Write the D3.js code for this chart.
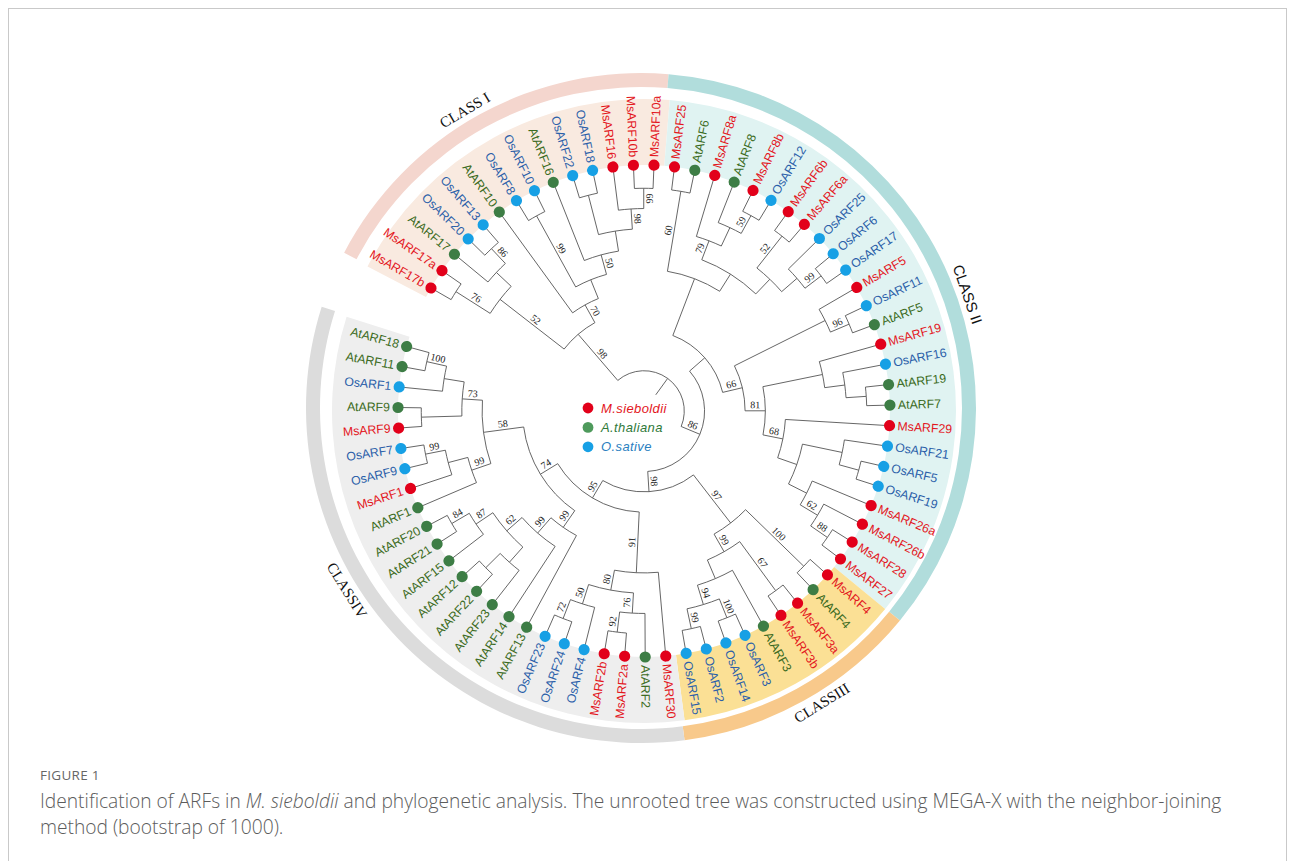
<!DOCTYPE html>
<html>
<head>
<meta charset="utf-8">
<script src="https://cdn.jsdelivr.net/npm/d3@7"></script>
<style>
  body { margin: 0; background: #fff; }
</style>
</head>
<body>
<svg id="chart" width="1293" height="861"></svg>
<script>
// ---- data -------------------------------------------------------------
// clades in Newick, clockwise leaf order, bootstrap values as node names
const cladeI = "(((MsARF17b,MsARF17a)76,(AtARF17,(OsARF20,OsARF13)86))52,(AtARF10,((OsARF8,OsARF10)99,(AtARF16,((OsARF22,OsARF18),(MsARF16,(MsARF10b,MsARF10a)66)98))50))70)98";
const cladeII = "(((MsARF25,AtARF6)60,((MsARF8a,(AtARF8,(MsARF8b,OsARF12)59))79,((MsARF6b,MsARF6a)52,(OsARF25,(OsARF6,OsARF17)99)))),((MsARF5,(OsARF11,AtARF5)96),((MsARF19,(OsARF16,(AtARF19,AtARF7))),(MsARF29,((OsARF21,(OsARF5,OsARF19)),(MsARF26a,(MsARF26b,(MsARF28,MsARF27)88)62)))68)81)66)";
const cladeIII = "((MsARF4,AtARF4)100,((MsARF3a,MsARF3b)67,(AtARF3,((OsARF3,OsARF14)100,(OsARF2,OsARF15)99)94))99)97";
const cladeIV = "((MsARF30,((AtARF2,(MsARF2a,MsARF2b)92)76,(OsARF4,(OsARF24,OsARF23)72)50)80)91,((AtARF13,(AtARF14,((AtARF23,(AtARF22,AtARF12)),(AtARF15,(AtARF21,AtARF20)84)87)62)99)99,((AtARF1,(MsARF1,(OsARF9,OsARF7)99))99,((MsARF9,AtARF9),(OsARF1,(AtARF11,AtARF18)100))73)58)74)95";
const treeNewick = "((" + cladeI + ",(" + cladeII + ",(" + cladeIII + "," + cladeIV + ")98)86));";

const classNames = ["CLASS I", "CLASS II", "CLASSIII", "CLASSIV"];
const classFirst = ["MsARF17b", "MsARF25", "MsARF4", "MsARF30"];
const classLast  = ["MsARF10a", "MsARF27", "OsARF15", "AtARF18"];

const speciesPrefix = ["Ms", "At", "Os"];
const speciesNames  = ["M.sieboldii", "A.thaliana", "O.sative"];

const figureTitle = "FIGURE 1";
const captionLine1 = ["Identification of ARFs in ", "M. sieboldii", " and phylogenetic analysis. The unrooted tree was constructed using MEGA-X with the neighbor-joining"];
const captionLine2 = "method (bootstrap of 1000).";

// ---- helpers ----------------------------------------------------------
function parseNewick(s) {
  let i = 0;
  function node() {
    const n = {};
    if (s[i] === "(") {
      n.children = [];
      i++;
      n.children.push(node());
      while (s[i] === ",") { i++; n.children.push(node()); }
      i++; // ')'
    }
    let name = "";
    while (i < s.length && !",();".includes(s[i])) name += s[i++];
    n.name = name.trim();
    return n;
  }
  return node();
}

const rad = a => a * Math.PI / 180;
const polar = (a, r) => [Math.sin(rad(a)) * r, -Math.cos(rad(a)) * r];
const norm = a => ((a % 360) + 360) % 360;

const dotColor  = { Ms: "#e2001a", At: "#3d7d45", Os: "#17a0e5" };
const textColor = { Ms: "#e3161d", At: "#3b6b22", Os: "#2b5fa9" };
const bandColor = ["#f9eae0", "#e0f3f2", "#fbe095", "#eeeeee"];
const ringColor = ["#f4d6ce", "#b1dddc", "#f8c98b", "#dcdcdc"];

// ---- layout -----------------------------------------------------------
const svg = d3.select("#chart");
const cx = 644, cy = 411;
const leafR = 246;

const root = d3.hierarchy(parseNewick(treeNewick));
const nLeaves = root.leaves().length;
d3.cluster().size([nLeaves, root.height]).separation(() => 1)(root);

const angle = d3.scaleLinear().domain([0.5, nLeaves - 0.5]).range([300, 645.2]);
const radius = d3.scaleLinear().domain([0, root.height]).range([20, 243]);
const step = (angle(1.5) - angle(0.5));

const leafByName = {};
root.leaves().forEach(d => leafByName[d.data.name] = d);

// frame
svg.append("rect")
  .attr("x", 8.5).attr("y", 8.5)
  .attr("width", 1278).attr("height", 900)
  .attr("fill", "none").attr("stroke", "#c9c9c9");

// class bands and rings
const bandG = svg.append("g").attr("transform", `translate(${cx},${cy})`);
const ringG = svg.append("g").attr("transform", `translate(${cx - 3},${cy - 3})`);
const classSpan = classNames.map((c, i) => [
  angle(leafByName[classFirst[i]].x) - step / 2,
  angle(leafByName[classLast[i]].x) + step / 2
]);

const bandArc = d3.arc().innerRadius(leafR).outerRadius(312);
const ringArc = d3.arc().innerRadius(321).outerRadius(335);
classSpan.forEach((s, i) => {
  bandG.append("path")
    .attr("d", bandArc({ startAngle: rad(s[0]), endAngle: rad(s[1]) }))
    .attr("fill", bandColor[i]);
  ringG.append("path")
    .attr("d", ringArc({ startAngle: rad(s[0]), endAngle: rad(s[1]) }))
    .attr("fill", ringColor[i]);
});

// class labels, placed by hand along the outer ring
const classLabelAngle = [-30.6, 70.8, 148.5, 238.2];
classNames.forEach((c, i) => {
  const a = classLabelAngle[i];
  const [x, y] = polar(a, 346);
  const na = norm(a);
  const rot = (na > 90 && na < 270) ? a - 180 : a;
  ringG.append("text")
    .attr("transform", `translate(${x},${y}) rotate(${rot})`)
    .attr("text-anchor", "middle")
    .attr("dominant-baseline", "central")
    .attr("font-family", i === 1 ? "Liberation Sans, Arial, sans-serif" : "Liberation Serif, Times New Roman, serif")
    .attr("font-size", 15)
    .attr("fill", "#111")
    .text(c);
});

// tree
const g = svg.append("g").attr("transform", `translate(${cx},${cy})`);

function linkPath(d) {
  const a0 = angle(d.parent.x), a1 = angle(d.x);
  const r0 = radius(d.parent.y);
  const r1 = d.children ? radius(d.y) : leafR;
  const [x0, y0] = polar(a0, r0), [x1, y1] = polar(a1, r0), [x2, y2] = polar(a1, r1);
  const sweep = a1 > a0 ? 1 : 0;
  return `M${x0},${y0}A${r0},${r0} 0 0 ${sweep} ${x1},${y1}L${x2},${y2}`;
}

g.append("g")
  .attr("fill", "none")
  .attr("stroke", "#555")
  .attr("stroke-width", 0.9)
  .selectAll("path")
  .data(root.descendants().slice(1))
  .join("path")
  .attr("d", linkPath);

// bootstrap values
g.append("g")
  .selectAll("text")
  .data(root.descendants().filter(d => d.children && d.parent && d.data.name))
  .join("text")
  .attr("transform", d => {
    const a = angle(d.x);
    const rm = (radius(d.parent.y) + radius(d.y)) / 2;
    const [x, y] = polar(a, rm);
    const rot = norm(a) < 180 ? a - 90 : a + 90;
    return `translate(${x},${y}) rotate(${rot})`;
  })
  .attr("y", -2.5)
  .attr("text-anchor", "middle")
  .attr("font-family", "Liberation Serif, Times New Roman, serif")
  .attr("font-size", 10)
  .attr("fill", "#222")
  .text(d => d.data.name);

// leaves
const prefix = d => d.data.name.slice(0, 2);
const leaves = g.append("g").selectAll("g")
  .data(root.leaves())
  .join("g")
  .attr("transform", d => `rotate(${angle(d.x) - 90})`);

leaves.append("circle")
  .attr("cx", leafR)
  .attr("r", 5.6)
  .attr("fill", d => dotColor[prefix(d)]);

leaves.append("text")
  .attr("transform", d => {
    const flip = norm(angle(d.x)) > 182;
    return `translate(254,0)` + (flip ? " rotate(180)" : "");
  })
  .attr("text-anchor", d => norm(angle(d.x)) > 182 ? "end" : "start")
  .attr("dominant-baseline", "central")
  .attr("font-family", "Liberation Sans, Arial, sans-serif")
  .attr("font-size", 12.3)
  .attr("fill", d => textColor[prefix(d)])
  .text(d => d.data.name);

// legend
const legendDot  = ["#e2001a", "#4e9a5c", "#17a0e5"];
const legendText = ["#e3161d", "#2f7a3b", "#2a80bf"];
const legend = svg.append("g").attr("transform", "translate(588,408)");
speciesNames.forEach((s, i) => {
  legend.append("circle").attr("cx", 0).attr("cy", i * 19.4).attr("r", 5.4).attr("fill", legendDot[i]);
  legend.append("text")
    .attr("x", 13).attr("y", i * 19.4)
    .attr("dominant-baseline", "central")
    .attr("font-family", "Liberation Sans, Arial, sans-serif")
    .attr("font-style", "italic")
    .attr("font-size", 13)
    .attr("letter-spacing", 0.4)
    .attr("fill", legendText[i])
    .text(s);
});

// caption
svg.append("text")
  .attr("x", 40).attr("y", 780)
  .attr("font-family", "Open Sans, sans-serif")
  .attr("font-size", 13.5)
  .attr("letter-spacing", 0.3)
  .attr("fill", "#666")
  .text(figureTitle);

const cap1 = svg.append("text")
  .attr("x", 40).attr("y", 808)
  .attr("font-family", "Open Sans, sans-serif")
  .attr("font-weight", 300)
  .attr("font-size", 16)
  .attr("fill", "#5c5c5c");
captionLine1.forEach((t, i) => {
  cap1.append("tspan").attr("font-style", i === 1 ? "italic" : "normal").text(t);
});
const cap2 = svg.append("text")
  .attr("x", 40).attr("y", 834)
  .attr("font-family", "Open Sans, sans-serif")
  .attr("font-weight", 300)
  .attr("font-size", 16)
  .attr("fill", "#5c5c5c")
  .text(captionLine2);

// fit caption size to the figure width
const w1 = cap1.node().getComputedTextLength();
const fs = 16 * 1182 / w1;
cap1.attr("font-size", fs);
cap2.attr("font-size", fs);
</script>
</body>
</html>
